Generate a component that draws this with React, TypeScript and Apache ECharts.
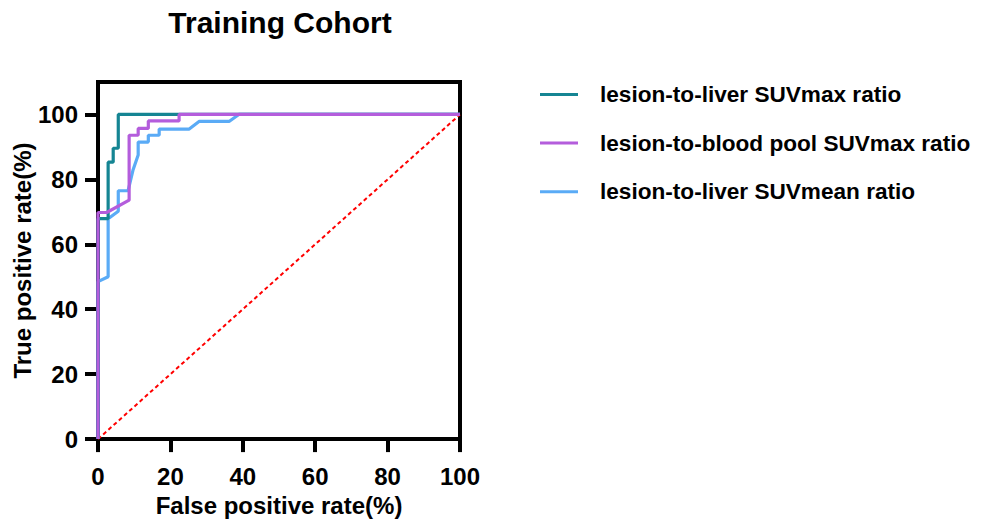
import React, { useEffect, useRef } from "react";
import * as echarts from "echarts";

const titleText = "Training Cohort";
const xName = "False positive rate(%)";
const yName = "True positive rate(%)";
const tickValues = [0, 20, 40, 60, 80, 100];

const seriesNames = [
  "lesion-to-liver SUVmax ratio",
  "lesion-to-blood pool SUVmax ratio",
  "lesion-to-liver SUVmean ratio",
];
const seriesColors = ["#158593", "#b45ddc", "#5aabf6"];

const liverSuvmax: number[][] = [
  [0, 0], [0, 67.9], [2.8, 67.9], [2.8, 85.3], [4.2, 85.3], [4.2, 89.6],
  [5.6, 89.6], [5.6, 100], [100, 100],
];
const bloodPoolSuvmax: number[][] = [
  [0, 0], [0, 69.8], [2.4, 69.8], [8.6, 73.6], [8.6, 93.6], [11.1, 93.6],
  [11.1, 95.7], [13.9, 95.7], [13.9, 98], [22.4, 98], [22.4, 100], [100, 100],
];
const liverSuvmean: number[][] = [
  [0, 0], [0, 48.5], [2.8, 50], [2.8, 67.9], [5.6, 70.2], [5.6, 76.5],
  [8.3, 76.5], [9.7, 83], [11.1, 87.5], [11.1, 91.5], [13.9, 91.5],
  [13.9, 93.6], [16.9, 93.6], [16.9, 95.5], [25.2, 95.5], [28, 97.9],
  [36.3, 97.9], [38.9, 100], [100, 100],
];
const chanceLine: number[][] = [
  [0, 0], [100, 100],
];

const FONT = "'Liberation Sans', Arial, Helvetica, sans-serif";

export default function App() {
  const ref = useRef<HTMLDivElement>(null);
  useEffect(() => {
    if (!ref.current) return;
    const chart = echarts.init(ref.current, undefined, { renderer: "svg" });
    const lineSeries = (name: string, data: number[][], color: string, z: number) => ({
      name,
      type: "line",
      data,
      showSymbol: false,
      symbol: "none",
      z,
      lineStyle: { color, width: 3.2 },
      itemStyle: { color },
    });
    chart.setOption({
      animation: false,
      backgroundColor: "#ffffff",
      graphic: [
        {
          type: "text",
          x: 280,
          y: 7,
          style: {
            text: titleText,
            font: `bold 30px ${FONT}`,
            fill: "#000",
            textAlign: "center",
            textVerticalAlign: "top",
          },
        },
      ],
      legend: {
        orient: "vertical",
        left: 540,
        top: 83,
        padding: 0,
        itemWidth: 38,
        itemHeight: 3,
        itemGap: 25.6,
        icon: "rect",
        data: seriesNames,
        textStyle: {
          fontFamily: FONT,
          fontWeight: "bold",
          fontSize: 22.6,
          lineHeight: 22,
          color: "#000",
          padding: [0, 0, 0, 17],
        },
      },
      grid: {
        left: 98,
        right: 523,
        top: 82,
        bottom: 78,
        show: true,
        borderColor: "#000",
        borderWidth: 4,
        backgroundColor: "transparent",
      },
      xAxis: {
        type: "value",
        min: 0,
        max: 100,
        interval: 20,
        name: xName,
        nameLocation: "middle",
        nameGap: 50,
        nameTextStyle: { fontFamily: FONT, fontWeight: "bold", fontSize: 24, color: "#000" },
        splitLine: { show: false },
        axisLine: { show: true, lineStyle: { color: "#000", width: 4 } },
        axisTick: { show: true, length: 13, lineStyle: { color: "#000", width: 4 }, customValues: tickValues },
        axisLabel: { fontFamily: FONT, fontWeight: "bold", fontSize: 24, color: "#000", margin: 25, customValues: tickValues },
      },
      yAxis: {
        type: "value",
        min: 0,
        max: 110,
        interval: 20,
        name: yName,
        nameLocation: "middle",
        nameGap: 58,
        nameTextStyle: { fontFamily: FONT, fontWeight: "bold", fontSize: 24, color: "#000" },
        splitLine: { show: false },
        axisLine: { show: true, lineStyle: { color: "#000", width: 4 } },
        axisTick: { show: true, length: 13, lineStyle: { color: "#000", width: 4 }, customValues: tickValues },
        axisLabel: { fontFamily: FONT, fontWeight: "bold", fontSize: 24, color: "#000", margin: 20, customValues: tickValues },
      },
      series: [
        lineSeries(seriesNames[0], liverSuvmax, seriesColors[0], 3),
        lineSeries(seriesNames[1], bloodPoolSuvmax, seriesColors[1], 4),
        lineSeries(seriesNames[2], liverSuvmean, seriesColors[2], 2),
        {
          name: "reference",
          type: "line",
          data: chanceLine,
          showSymbol: false,
          symbol: "none",
          z: 1,
          lineStyle: { color: "#ff0000", width: 2, type: [4, 3] },
        },
      ],
    });
    return () => chart.dispose();
  }, []);
  return (
    <div
      ref={ref}
      style={{ position: "fixed", left: 0, top: 0, width: 983, height: 522 }}
    />
  );
}
